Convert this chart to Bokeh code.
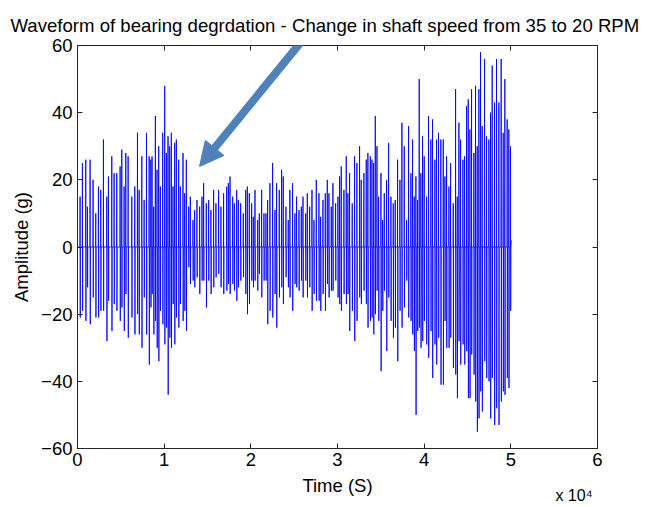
from bokeh.plotting import figure
from bokeh.models import (Range1d, LinearAxis, FixedTicker, Title, Arrow, NormalHead,
                          CustomLabelingPolicy)
from bokeh.embed import file_html
from bokeh.resources import INLINE

# ---- data (time in seconds, amplitude in g) ----
t_spike = [
    308, 578, 963, 1155, 1463, 1810, 2118, 2426, 2695, 3003, 3388, 3581, 3966, 4235, 4543,
    4928, 5121, 5390, 5583, 5852, 6276, 6622, 6930, 7123, 7431, 7700, 7970, 8278, 8470,
    8612, 8804, 8996, 9188, 9380, 9572, 9841, 10071, 10263, 10455, 10647, 10839, 11031,
    11223, 11415, 11684, 11876, 12183, 12375, 12567, 12836, 13028, 13335, 13527, 13796,
    14103, 14372, 14564, 14871, 15140, 15409, 15716, 15985, 16292, 16561, 16868,
    17224, 17416, 17608, 17915, 18107, 18376, 18568, 18837, 19144, 19413, 19605, 19835,
    20104, 20296, 20488, 20795, 20987, 21256, 21525, 21755, 21947, 22216, 22523, 22792,
    22984, 23291, 23560, 23752, 24059, 24328, 24520, 24827, 25096, 25288,
    25567, 25836, 26028, 26335, 26527, 26796, 27065, 27295, 27564, 27871, 28063, 28332,
    28601, 28831, 29023, 29292, 29484, 29791, 30060, 30252, 30444, 30751, 31020, 31212,
    31404, 31711, 31980, 32249, 32556, 32748, 33055, 33324, 33516,
    33795, 33987, 34179, 34371, 34563, 34755, 35024, 35216, 35408, 35677, 35907, 36176,
    36445, 36675, 36944, 37213, 37443, 37712, 37981, 38211, 38480, 38672, 38864, 39056,
    39248, 39440, 39632, 39824, 40016, 40285, 40515, 40784, 40976, 41245, 41437, 41667,
    41936,
    42215, 42407, 42599, 42868, 43060, 43367, 43636, 43828, 44020, 44212, 44481, 44673,
    44903, 45095, 45287, 45479, 45748, 45940, 46132, 46324, 46516, 46708, 46977, 47207,
    47476, 47668, 47860, 48129, 48359, 48628, 48897, 49127, 49319, 49588, 49780, 49972,
]
amp_top = [
    15, 25, 26, 12, 26, 20, 10, 18, 17, 32, 15, 21, 27, 22, 22,
    24, 29, 18, 28, 27, 15, 18, 34, 17, 27, 14, 34, 27, 26,
    27, 12, 39, 23, 30, 18, 34, 48, 28, 33, 30, 34, 18,
    31, 32, 26, 18, 28, 16, 26, 12, 15, 8, 11, 14,
    12, 15, 19, 13, 14, 11, 17, 13, 17, 12, 16,
    18, 19, 21, 15, 13, 17, 14, 13, 10, 17, 18, 16,
    13, 9, 17, 8, 10, 17, 10, 10, 14, 19, 25, 11,
    19, 17, 23, 21, 12, 8, 17, 19, 10, 15,
    11, 12, 15, 10, 16, 12, 17, 8, 20, 16, 9, 14,
    16, 20, 16, 12, 19, 13, 15, 21, 24, 17, 27, 16,
    22, 13, 27, 25, 30, 20, 22, 26, 28,
    27, 26, 25, 39, 30, 15, 22, 8, 16, 20, 31, 15,
    13, 14, 26, 20, 37, 30, 8, 36, 22, 32, 15, 21,
    14, 50, 22, 33, 27, 15, 39, 32, 38, 26, 32, 34,
    32,
    32, 21, 27, 18, 25, 13, 47, 15, 37, 32, 26, 27,
    42, 44, 35, 47, 28, 48, 30, 47, 58, 36, 56, 33,
    32, 40, 54, 43, 56, 43, 56, 34, 50, 38, 35, 30,
]
amp_bottom = [
    -21, -19, -22, -12, -23, -15, -21, -21, -19, -19, -28, -16, -25, -17, -19,
    -22, -18, -25, -14, -27, -21, -26, -20, -26, -30, -15, -26, -35, -18,
    -14, -26, -22, -30, -34, -19, -23, -29, -24, -44, -27, -30, -17,
    -29, -21, -24, -17, -22, -19, -25, -6, -11, -10, -12, -9,
    -14, -10, -10, -18, -10, -14, -12, -9, -8, -12, -14,
    -13, -11, -14, -11, -13, -16, -12, -10, -9, -14, -20, -17,
    -10, -12, -10, -13, -8, -15, -10, -10, -23, -19, -21, -14,
    -24, -15, -12, -17, -9, -12, -15, -19, -11, -12,
    -13, -10, -15, -10, -15, -12, -19, -14, -16, -16, -19, -14,
    -19, -11, -15, -13, -13, -10, -15, -17, -19, -14, -17, -14,
    -25, -19, -28, -22, -15, -17, -13, -17, -24,
    -22, -21, -26, -20, -13, -22, -37, -19, -13, -31, -15, -22,
    -27, -24, -34, -19, -24, -18, -10, -21, -22, -26, -31, -50,
    -25, -24, -30, -28, -22, -29, -33, -25, -39, -29, -35, -27,
    -41,
    -41, -22, -30, -30, -27, -36, -38, -45, -28, -35, -29, -35,
    -31, -45, -45, -32, -38, -46, -55, -51, -43, -49, -34, -39,
    -40, -51, -39, -53, -48, -53, -46, -43, -44, -39, -42, -19,
]
t_end, amp_end = 50050, 2

x_ticks = [0, 10000, 20000, 30000, 40000, 50000, 60000]
x_tick_labels = ["0", "1", "2", "3", "4", "5", "6"]
y_ticks = [-60, -40, -20, 0, 20, 40, 60]

title_text = "Waveform of bearing degrdation - Change in shaft speed from 35 to 20 RPM"
x_exponent_text = "x 10\u2074"

# build waveform samples: baseline -> positive peak -> negative peak -> baseline
xs, ys = [0.0], [0.0]
for t, hi, lo in zip(t_spike, amp_top, amp_bottom):
    xs += [t - 30, t - 10, t + 10, t + 30]
    ys += [0.0, hi, lo, 0.0]
xs.append(t_end)
ys.append(amp_end)

FONT = "Liberation Sans"
FS = "18.5px"
AX = "#262626"

p = figure(width=646, height=507, output_backend="svg", toolbar_location=None,
           x_range=Range1d(0, 60000), y_range=Range1d(-60, 60),
           min_border_left=77, min_border_right=49, min_border_top=45,
           min_border_bottom=59, x_axis_location=None, y_axis_location=None)
p.grid.visible = False
p.outline_line_color = AX
p.outline_line_width = 1
p.background_fill_color = "white"
p.border_fill_color = "white"

p.line(xs, ys, line_color="#0000ff", line_width=1, line_alpha=0.85)

no_labels = CustomLabelingPolicy(code="for (const i of indices) indices.unset(i); return indices")


def style(ax, labels=True):
    ax.axis_line_color = AX
    ax.major_tick_line_color = AX
    ax.major_tick_in = 5
    ax.major_tick_out = 0
    ax.minor_tick_line_color = None
    ax.major_label_text_font = FONT
    ax.major_label_text_font_size = FS if labels else "1px"
    ax.major_label_text_color = "#000000"
    ax.axis_label_text_font = FONT
    ax.axis_label_text_font_size = FS
    ax.axis_label_text_font_style = "normal"
    ax.axis_label_text_color = "#000000"
    if not labels:
        ax.major_label_policy = no_labels
        ax.major_label_standoff = 0


xb = LinearAxis(ticker=FixedTicker(ticks=x_ticks), axis_label="Time (S)")
xb.major_label_overrides = dict(zip(x_ticks, x_tick_labels))
style(xb)
xb.major_label_standoff = 4
xb.axis_label_standoff = 6
p.add_layout(xb, "below")

yl = LinearAxis(ticker=FixedTicker(ticks=y_ticks), axis_label="Amplitude (g)")
style(yl)
yl.major_label_standoff = 5
yl.axis_label_standoff = 6
p.add_layout(yl, "left")

xt = LinearAxis(ticker=FixedTicker(ticks=x_ticks))
style(xt, labels=False)
p.add_layout(xt, "above")
yr = LinearAxis(ticker=FixedTicker(ticks=y_ticks))
style(yr, labels=False)
p.add_layout(yr, "right")

# chart title, shifted to the left edge of the window
p.add_layout(Title(text=title_text, align="left", offset=-67, standoff=12,
                   text_font=FONT, text_font_size="18.6px", text_font_style="normal",
                   text_color="#000000"), "above")

# exponent note of the x axis
p.add_layout(Title(text=x_exponent_text, align="right", offset=5, standoff=-24,
                   vertical_align="top",
                   text_font=FONT, text_font_size="16px", text_font_style="normal",
                   text_color="#000000"), "below")

# callout arrow
p.add_layout(Arrow(x_start=228, y_start=412, x_end=122, y_end=282,
                   start_units="screen", end_units="screen",
                   line_color="#4f81bd", line_width=8,
                   end=NormalHead(size=24, fill_color="#4f81bd", line_color="#4f81bd")))

open("out.html", "w").write(file_html(p, INLINE))
